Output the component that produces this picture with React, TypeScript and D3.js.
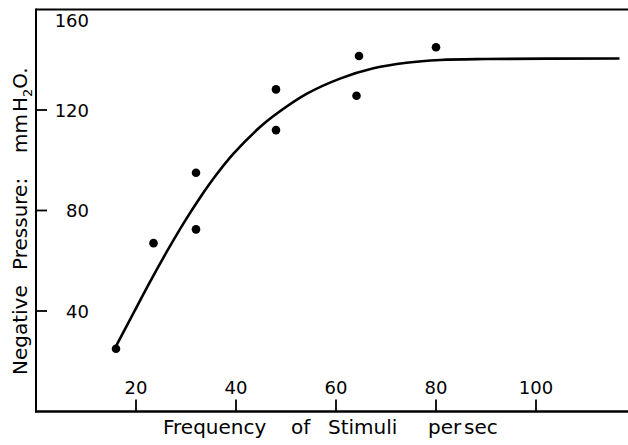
import React from "react";
import * as d3 from "d3";

const pointX = [16, 23.5, 32, 32, 48, 48, 64.6, 64.1, 80];
const pointY = [25, 67, 95, 72.5, 128.2, 112, 141.5, 125.7, 145];

const curveX = [15.8, 19.5, 22.8, 26.1, 29.5, 32.8, 36.1, 39.5, 44.8, 47.5, 54.1, 60.8, 67.5, 74.1, 80.8, 90, 116.7];
const curveY = [25.2, 39.2, 51.6, 63.4, 74.9, 85.1, 94.3, 102.6, 113.2, 117.6, 126.4, 132.5, 136.6, 138.8, 139.9, 140.3, 140.5];

const xTicks = [20, 40, 60, 80, 100];
const yTicks = [40, 80, 120, 160];

const W = 628;
const H = 445;

export default function App() {
  const x = d3.scaleLinear().domain([0, 100]).range([36, 536]);
  const y = d3.scaleLinear().domain([0, 160]).range([411.5, 9.5]);
  const line = d3
    .line<[number, number]>()
    .x((d) => x(d[0]))
    .y((d) => y(d[1]))
    .curve(d3.curveCatmullRom.alpha(0.5));
  const curveData: [number, number][] = curveX.map((v, i) => [v, curveY[i]]);
  const font = "DejaVu Sans, Verdana, sans-serif";
  const x0 = x(0);
  const yb = y(0);
  const yt = y(160);

  return (
    <svg
      width={W}
      height={H}
      style={{ position: "absolute", left: 0, top: 0, background: "#fff" }}
      fontFamily={font}
    >
      <rect x={0} y={0} width={W} height={H} fill="#fff" />
      {/* frame */}
      <line x1={x0} y1={yt} x2={W} y2={yt} stroke="#000" strokeWidth={2.2} />
      <line x1={x0} y1={yt - 1} x2={x0} y2={yb + 1} stroke="#000" strokeWidth={2} />
      <line x1={x0 - 1} y1={yb} x2={W} y2={yb} stroke="#000" strokeWidth={2.4} />

      {/* x ticks */}
      {xTicks.map((t) => (
        <g key={"xt" + t}>
          <line x1={x(t)} y1={yb} x2={x(t)} y2={yb - 12} stroke="#000" strokeWidth={1.8} />
          <text x={x(t)} y={393.5} fontSize={18} textAnchor="middle" fill="#000">
            {t}
          </text>
        </g>
      ))}

      {/* y ticks */}
      {yTicks.map((t) => (
        <g key={"yt" + t}>
          {t < 160 && (
            <line x1={x0} y1={y(t)} x2={x0 + 11} y2={y(t)} stroke="#000" strokeWidth={1.8} />
          )}
          <text
            x={89}
            y={t === 160 ? 26.5 : y(t) + 6.5}
            fontSize={18}
            textAnchor="end"
            fill="#000"
          >
            {t}
          </text>
        </g>
      ))}

      {/* curve */}
      <path d={line(curveData) || ""} fill="none" stroke="#000" strokeWidth={2.6} />

      {/* points */}
      {pointX.map((v, i) => (
        <circle key={"p" + i} cx={x(v)} cy={y(pointY[i])} r={4.3} fill="#000" />
      ))}

      {/* x title */}
      <g fontSize={20} fill="#000">
        <text x={163} y={433.5}>Frequency</text>
        <text x={291} y={433.5}>of</text>
        <text x={328} y={433.5}>Stimuli</text>
        <text x={428} y={433.5}>per</text>
        <text x={464} y={433.5}>sec</text>
      </g>

      {/* y title */}
      <g fontSize={20} fill="#000">
        <text transform="translate(27,375) rotate(-90)">Negative</text>
        <text transform="translate(27,270) rotate(-90)">Pressure:</text>
        <text transform="translate(27,153) rotate(-90)">mm</text>
        <text transform="translate(27,112) rotate(-90)">
          H<tspan fontSize={13} dy={5}>2</tspan>
          <tspan dy={-5}>O.</tspan>
        </text>
      </g>
    </svg>
  );
}
